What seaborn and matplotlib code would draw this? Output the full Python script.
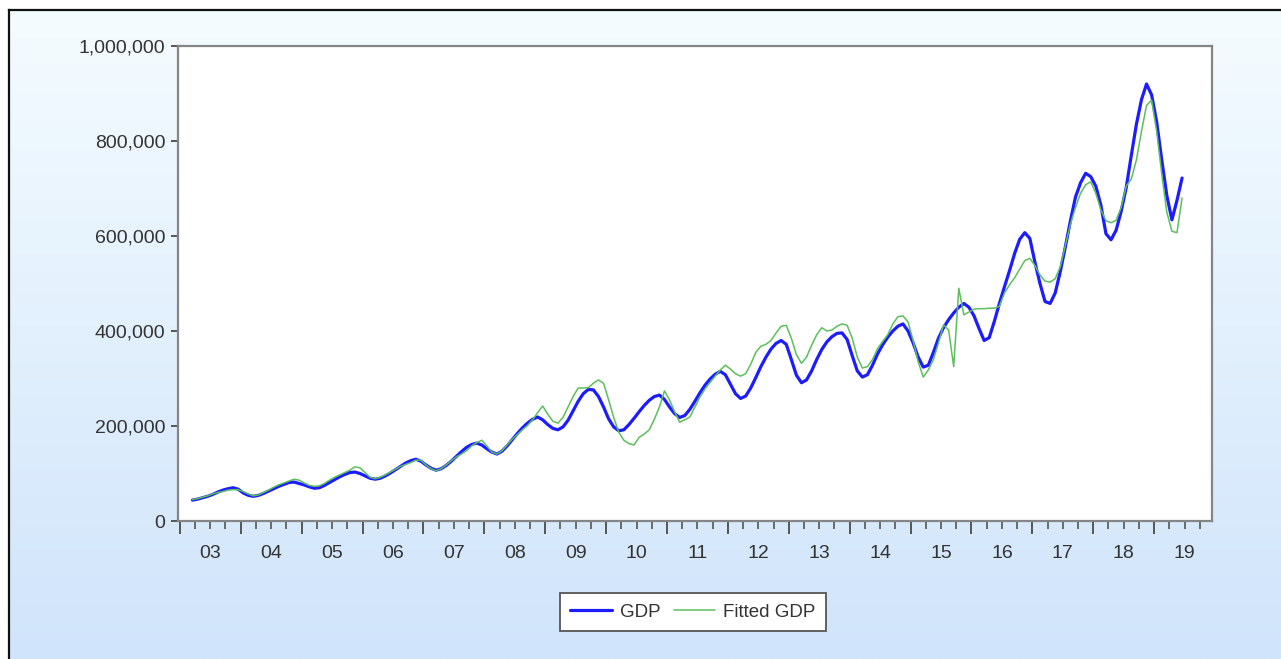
import numpy as np
import pandas as pd
import matplotlib
matplotlib.use("Agg")
import matplotlib.pyplot as plt
from matplotlib.colors import LinearSegmentedColormap
from matplotlib.ticker import FixedLocator, FuncFormatter
import seaborn as sns

# monthly data, first observation 2003M03, values in thousands
start_year = 2003
start_month = 3

gdp = [
    44, 46, 49, 52, 56, 61, 65, 68, 70, 67,                  # 2003 (Mar-Dec)
    59, 54, 52, 54, 58, 63, 68, 73, 77, 81, 82, 79,          # 2004
    76, 72, 69, 70, 75, 81, 87, 93, 98, 102, 103, 100,       # 2005
    95, 90, 88, 90, 95, 101, 108, 115, 122, 127, 130, 126,   # 2006
    118, 111, 107, 110, 117, 126, 136, 146, 155, 161, 164, 160,  # 2007
    152, 145, 141, 147, 158, 171, 184, 196, 206, 214, 219, 213,  # 2008
    203, 195, 192, 198, 212, 232, 252, 268, 277, 276, 262, 240,  # 2009
    215, 198, 190, 192, 203, 216, 230, 243, 254, 262, 265, 256,  # 2010
    240, 226, 218, 222, 235, 252, 270, 286, 299, 309, 315, 308,  # 2011
    288, 268, 258, 263, 280, 302, 325, 345, 362, 374, 380, 372,  # 2012
    340, 307, 291, 297, 316, 340, 361, 377, 388, 395, 396, 382,  # 2013
    348, 316, 303, 308, 328, 352, 371, 387, 400, 410, 415, 400,  # 2014
    375, 345, 324, 328, 355, 385, 407, 424, 438, 450, 458, 450,  # 2015
    432, 405, 380, 386, 420, 458, 493, 527, 563, 593, 607, 595,  # 2016
    545, 500, 462, 458, 480, 525, 577, 632, 682, 712, 732, 725,  # 2017
    705, 665, 605, 592, 612, 652, 702, 770, 835, 887, 920, 897,  # 2018
    840, 760, 685, 634, 675, 722,                                # 2019 (Jan-Jun)
]

fitted = [
    45, 47, 50, 53, 57, 60, 62, 65, 66, 66,                  # 2003
    62, 57, 53, 55, 60, 65, 71, 76, 80, 84, 88, 86,          # 2004
    80, 75, 73, 74, 79, 86, 92, 97, 102, 107, 114, 112,      # 2005
    102, 92, 89, 92, 97, 103, 109, 115, 119, 123, 128, 128,  # 2006
    118, 110, 106, 110, 118, 127, 135, 141, 148, 158, 165, 170,  # 2007
    158, 145, 141, 148, 160, 172, 182, 192, 201, 213, 228, 242,  # 2008
    225, 210, 206, 218, 240, 262, 280, 280, 281, 290, 297, 290,  # 2009
    255, 218, 187, 170, 163, 160, 176, 183, 192, 214, 240, 274,  # 2010
    255, 230, 208, 213, 219, 240, 261, 278, 292, 305, 318, 328,  # 2011
    320, 310, 305, 310, 330, 355, 368, 372, 380, 396, 410, 412,  # 2012
    385, 350, 332, 345, 370, 392, 407, 400, 402, 410, 415, 412,  # 2013
    385, 345, 322, 325, 340, 363, 378, 392, 415, 430, 432, 419,  # 2014
    380, 335, 303, 318, 340, 375, 413, 402, 325, 490, 434, 440,  # 2015
    446, 447, 447, 448, 448, 452, 480, 497, 512, 530, 548, 553,  # 2016
    538, 518, 505, 503, 510, 535, 580, 625, 660, 690, 708, 714,  # 2017
    690, 655, 632, 628, 633, 660, 705, 720, 760, 820, 875, 886,  # 2018
    820, 730, 650, 610, 607, 680,                                # 2019
]

series_names = ["GDP", "Fitted GDP"]
series_colors = ["#1c1cff", "#5cbf5c"]
year_ticks = list(range(2003, 2020))
y_ticks = [0, 200000, 400000, 600000, 800000, 1000000]

sns.set_style("white")
plt.rcParams["font.family"] = ["Liberation Sans", "DejaVu Sans"]

# observations sit in the middle of their month
months = np.arange(len(gdp)) + start_month - 1
t = start_year + (months + 0.5) / 12
df = pd.DataFrame({"t": t,
                   series_names[0]: np.array(gdp) * 1000,
                   series_names[1]: np.array(fitted) * 1000})

W, H = 1281, 659
fig = plt.figure(figsize=(W / 100, H / 100), dpi=100, facecolor="white")

# light blue gradient panel with dark frame
bg = fig.add_axes([9 / W, 0, 1 - 9 / W, 1 - 10 / H], zorder=-1)
grad = np.linspace(0, 1, 256).reshape(-1, 1)
cmap = LinearSegmentedColormap.from_list("bg", ["#f5fcff", "#d0e4fb"])
bg.imshow(grad, aspect="auto", cmap=cmap, extent=[0, 1, 0, 1], origin="upper")
bg.set_xticks([])
bg.set_yticks([])
for side in ["right", "bottom"]:
    bg.spines[side].set_visible(False)
for side in ["left", "top"]:
    bg.spines[side].set_color("#111111")
    bg.spines[side].set_linewidth(1.6)

ax = fig.add_axes([178 / W, 1 - 521 / H, (1212 - 178) / W, (521 - 46) / H])
ax.set_facecolor("white")

sns.lineplot(data=df, x="t", y=series_names[0], ax=ax, color=series_colors[0],
             linewidth=2.3, label=series_names[0],
             solid_joinstyle="round", solid_capstyle="round")
sns.lineplot(data=df, x="t", y=series_names[1], ax=ax, color=series_colors[1],
             linewidth=1.1, label=series_names[1])

ax.set_xlim(2002.97, 2019.95)
ax.set_ylim(0, 1000000)
ax.set_xlabel("")
ax.set_ylabel("")

for side in ax.spines:
    ax.spines[side].set_visible(True)
    ax.spines[side].set_color("#858585")
    ax.spines[side].set_linewidth(1.6)

# years as long ticks, quarters as short ones, label in the middle of each year
quarters = [y + q / 4 for y in year_ticks for q in (1, 2, 3)]
ax.xaxis.set_major_locator(FixedLocator(year_ticks))
ax.xaxis.set_minor_locator(FixedLocator(quarters))
ax.xaxis.set_major_formatter(FuncFormatter(lambda v, p: ""))
ax.xaxis.set_minor_formatter(FuncFormatter(
    lambda v, p: f"{int(v) % 100:02d}" if abs(v - int(v) - 0.5) < 1e-6 else ""))
ax.tick_params(axis="x", which="major", direction="out", length=9.5, width=1.4,
               color="#555555", bottom=True)
ax.tick_params(axis="x", which="minor", direction="out", length=5.5, width=1.2,
               color="#555555", bottom=True, pad=12, labelsize=14, labelcolor="#333333")

ax.yaxis.set_major_locator(FixedLocator(y_ticks))
ax.yaxis.set_major_formatter(FuncFormatter(lambda v, p: f"{v:,.0f}"))
ax.tick_params(axis="y", which="major", direction="out", length=5, width=1.4,
               color="#555555", left=True, pad=4, labelsize=14, labelcolor="#333333")

handles, labels = ax.get_legend_handles_labels()
ax.get_legend().remove()
leg = fig.legend(handles, labels, loc="center", bbox_to_anchor=(693 / W, 1 - 612 / H),
                 ncol=2, frameon=True, fancybox=False, framealpha=1, fontsize=13.5,
                 handlelength=2.2, handletextpad=0.45, columnspacing=0.7,
                 borderpad=0.55)
leg.get_frame().set_edgecolor("#555555")
leg.get_frame().set_linewidth(1.3)
leg.get_frame().set_facecolor("white")
for txt in leg.get_texts():
    txt.set_color("#333333")

fig.savefig("out.png", dpi=100, facecolor=fig.get_facecolor())
